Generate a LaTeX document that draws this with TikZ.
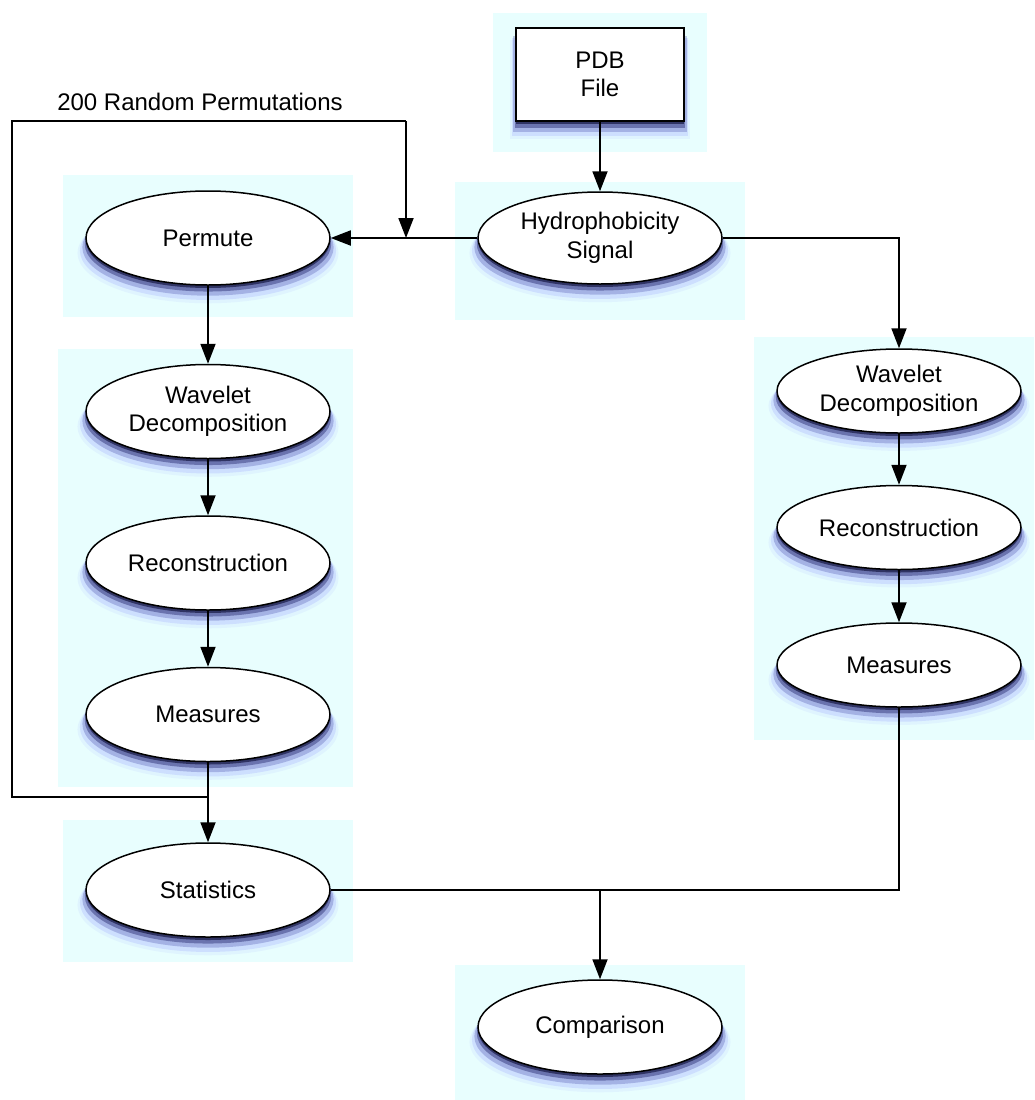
\documentclass[tikz,border=0pt]{standalone}
\usepackage{fontspec}
\setmainfont{Liberation Sans}
\usepackage{xcolor}
\usepackage{tikz}
\usetikzlibrary{arrows.meta, positioning, shapes.geometric, shadows}

\definecolor{bgcyan}{HTML}{E8FEFE}

\begin{document}
\begin{tikzpicture}[x=1pt, y=-1pt, >={Triangle[length=20pt, width=15pt]}, line width=1.8pt,
        every node/.style={font=\fontsize{24}{28.5}\selectfont},
        glow/.style={drop shadow={shadow xshift=0pt, shadow yshift=-14pt, shadow scale=1.07, fill=blue!50, opacity=.08},
                     drop shadow={shadow xshift=0pt, shadow yshift=-12pt, shadow scale=1.05, fill=blue!70, opacity=.12},
                     drop shadow={shadow xshift=0pt, shadow yshift=-9pt, shadow scale=1.03, fill=blue!50!black, opacity=.2},
                     drop shadow={shadow xshift=0pt, shadow yshift=-6pt, shadow scale=1.01, fill=blue!30!black, opacity=.35},
                     drop shadow={shadow xshift=0pt, shadow yshift=-3pt, fill=black!85!blue, opacity=.55}},
        stage/.style={ellipse, draw, line width=1.5pt, fill=white, align=center, minimum width=244pt, minimum height=94pt, inner sep=0pt, glow},
        stagesm/.style={stage, minimum height=84pt},
        filebox/.style={rectangle, draw, line width=1.5pt, fill=white, align=center, minimum width=168pt, minimum height=93pt, glow},
        lbl/.style={anchor=base}]

        \useasboundingbox (0,0) rectangle (1034,1100);

        % cyan panels
        \foreach \xa/\ya/\xb/\yb in {493/13/707/152, 455/182/745/320, 63/175/353/317, 58/349/353/787,
                                     63/820/353/962, 754/337/1034/740, 455/965/745/1100}
            \fill[bgcyan] (\xa,\ya) rectangle (\xb,\yb);

        \node (pdb) [filebox] at (600,74.5) {PDB\\File};
        \node (hyd) [stage, minimum height=92pt] at (600,238) {Hydrophobicity\\Signal};

        % permutation branch
        \node (perm) [stage] at (208,238) {Permute};
        \node (wl1) [stage, below=78pt of perm] {Wavelet\\Decomposition};
        \node (rec1) [stage, below=56pt of wl1] {Reconstruction};
        \node (mea1) [stage, below=56pt of rec1] {Measures};
        \node (stat1) [stage, below=80pt of mea1] {Statistics};

        % original signal branch
        \node (wl2) [stagesm] at (899,391) {Wavelet\\Decomposition};
        \node (rec2) [stagesm, below=51pt of wl2] {Reconstruction};
        \node (mea2) [stagesm, below=52pt of rec2] {Measures};

        \node (cmp) [stage] at (600,1027) {Comparison};

        \node (perms) [lbl] at (200,110) {200 Random Permutations};

        \coordinate (lp1) at (12,797);
        \coordinate (lp2) at (12,121);
        \coordinate (lp3) at (406,121);

        \draw[->] (pdb) -- (hyd);
        \draw[->] (hyd.west) -- (perm.east);
        \draw[->] (hyd.east) -| (wl2.north);
        \draw[->] (perm) -- (wl1);
        \draw[->] (wl1) -- (rec1);
        \draw[->] (rec1) -- (mea1);
        \draw[->] (mea1) -- (stat1);
        \draw[->] (wl2) -- (rec2);
        \draw[->] (rec2) -- (mea2);
        \draw (mea1.south |- lp1) -- (lp1) -- (lp2) -- (lp3);
        \draw[->] (lp3) -- (lp3 |- perm.east);
        \draw (stat1.east) -| (mea2.south);
        \draw[->] (stat1.east -| cmp.north) -- (cmp.north);
    \end{tikzpicture}
\end{document}
